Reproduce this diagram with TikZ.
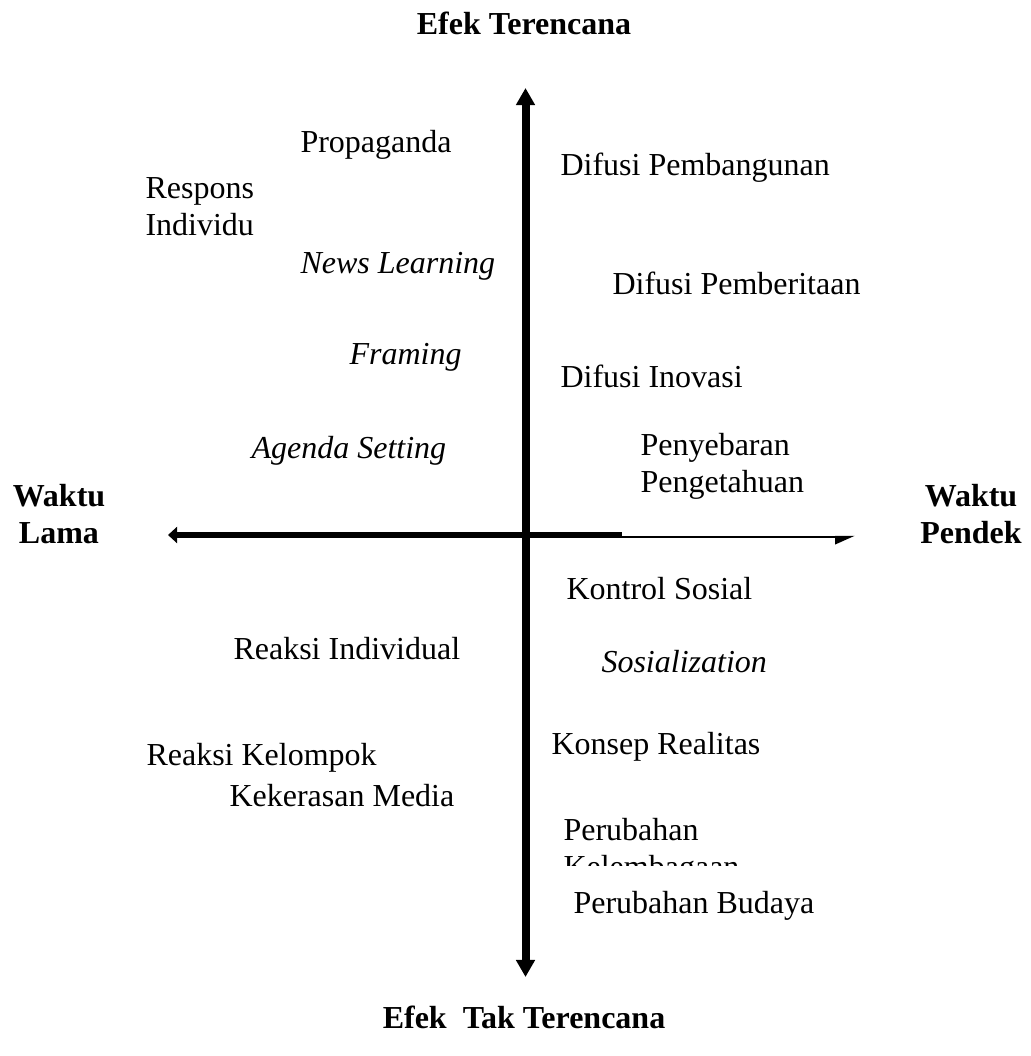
\documentclass[tikz,border=0pt]{standalone}
\usepackage{fontspec}
\setmainfont{Liberation Serif}
\usepackage{tikz}
\usetikzlibrary{arrows.meta}
\tikzset{
  lbl/.style={font=\fontsize{12}{13.8}\selectfont,inner sep=0pt,anchor=base west,align=left},
  ilbl/.style={lbl,font=\fontsize{12}{13.8}\selectfont\itshape},
  ttl/.style={font=\fontsize{12}{13.8}\selectfont\bfseries,inner sep=0pt,anchor=base,align=center},
  vaxis/.style={line width=3pt,{Triangle[length=6.4pt,width=6.8pt]}-{Triangle[length=6.4pt,width=6.8pt]}},
  haxl/.style={line width=2.25pt,{Triangle[length=3.4pt,width=6pt]}-},
  haxr/.style={line width=0.9pt,-{Triangle[harpoon,swap,length=6.4pt,width=5.4pt]}},
}

\begin{document}
\begin{tikzpicture}[x=0.375pt,y=-0.375pt]
  \useasboundingbox (0,0) rectangle (1031,1056);
  % axes
  \coordinate (top) at (525.5,88);
  \coordinate (bot) at (525.5,977);
  \coordinate (lft) at (168,535);
  \coordinate (mid) at (622,535);
  \coordinate (mid2) at (622,537);
  \coordinate (rgt) at (855,537);
  \draw[haxl] (lft) -- (mid);
  \draw[haxr] (mid2) -- (rgt);
  \draw[vaxis] (bot) -- (top);
  % axis titles (base = last line)
  \node[ttl] (eft) at (524,35) {Efek Terencana};
  \node[ttl] (etf) at (524,1028) {Efek\ \ Tak Terencana};
  \node[ttl] (wlama) at (59,543) {Waktu\\Lama};
  \node[ttl] (wpendek) at (971,543) {Waktu\\Pendek};
  % upper left
  \node[lbl] (prop) at (300,152) {Propaganda};
  \node[lbl] (resp) at (145,235) {Respons\\Individu};
  \node[ilbl] (news) at (300,273) {News Learning};
  \node[ilbl] (fram) at (349,364) {Framing};
  \node[ilbl] (agen) at (251,458) {Agenda Setting};
  % upper right
  \node[lbl] (dpemb) at (560,175) {Difusi Pembangunan};
  \node[lbl] (dberi) at (612,294) {Difusi Pemberitaan};
  \node[lbl] (dinov) at (560,387) {Difusi Inovasi};
  \node[lbl] (penye) at (640,492) {Penyebaran\\Pengetahuan};
  % lower left
  \node[lbl] (rind) at (233,659) {Reaksi Individual};
  \node[lbl] (rkel) at (146,765) {Reaksi Kelompok};
  \node[lbl] (kmed) at (229,806) {Kekerasan Media};
  % lower right
  \node[lbl] (ksos) at (566,599) {Kontrol Sosial};
  \node[ilbl] (sosi) at (601,672) {Sosialization};
  \node[lbl] (kreal) at (551,754) {Konsep Realitas};
  \begin{scope}
    \clip (540,800) rectangle (820,865);
    \node[lbl] (plemb) at (563,877) {Perubahan\\Kelembagaan};
  \end{scope}
  \node[lbl] (pbud) at (573,913) {Perubahan Budaya};
\end{tikzpicture}
\end{document}
